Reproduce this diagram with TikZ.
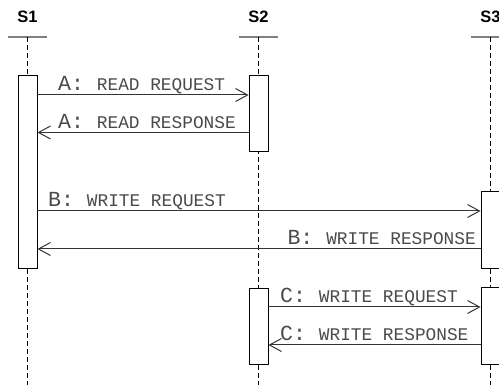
\documentclass[tikz,border=0pt]{standalone}
\usepackage{fontspec}
\setmainfont{Liberation Sans}
\newfontfamily\msgfont{Liberation Mono}
\usetikzlibrary{arrows.meta}
\definecolor{msgline}{HTML}{333333}
\definecolor{msgtext}{HTML}{4A4A4A}
\definecolor{headrule}{HTML}{808080}
% message text: first part at full size, rest in reduced capitals
\newcommand\msglabel[2]{{\msgfont\fontsize{21.5}{22}\selectfont #1}{\msgfont\fontsize{17.8}{18}\selectfont #2}}
\tikzset{
  head/.style={font=\bfseries\fontsize{16.5}{17}\selectfont, inner sep=0pt, anchor=base},
  headline/.style={draw=headrule, line width=2pt},
  life/.style={draw=black, line width=0.9pt, dash pattern=on 5pt off 3pt},
  actbox/.style={draw=black, fill=white, line width=0.9pt, inner sep=0pt, minimum width=19pt},
  msg/.style={draw=msgline, line width=1pt, -{Straight Barb[length=12pt,width=13pt,line width=1pt]}},
  lbl/.style={text=msgtext, inner sep=0pt, anchor=base west},
  lblr/.style={text=msgtext, inner sep=0pt, anchor=base east}
}
\begin{document}
\begin{tikzpicture}[x=1pt,y=-1pt]
\useasboundingbox (0,0) rectangle (499,385);
\clip (0,0) rectangle (499,385);

% participants
\node[head] (s1) at (27.5,23) {S1};
\node[head] (s2) at (258.5,23) {S2};
\node[head] (s3) at (490.5,23) {S3};
\draw[headline] (8,37) -- (47,37);
\draw[headline] (239,37) -- (278,37);
\draw[headline] (471,37) -- (510,37);

% lifelines
\draw[life] (27.5,37) -- (27.5,385);
\draw[life] (258.5,37) -- (258.5,385);
\draw[life] (490.5,37) -- (490.5,385);

% activation bars
\node[actbox, minimum height=193pt] (b1)  at (27.5,171.5) {};
\node[actbox, minimum height=76pt]  (b2a) at (258.5,113) {};
\node[actbox, minimum height=76pt]  (b2b) at (258.5,326) {};
\node[actbox, minimum height=77pt]  (b3a) at (490.5,229.5) {};
\node[actbox, minimum height=77pt]  (b3b) at (490.5,325.5) {};

% messages
\draw[msg] (b1.east |- 0,95) -- (b2a.west |- 0,95);
\node[lbl] (la1) at (58,91) {\msglabel{A:\ }{READ REQUEST}};
\draw[msg] (b2a.west |- 0,132.5) -- (b1.east |- 0,132.5);
\node[lbl] (la2) at (58,128.5) {\msglabel{A:\ }{READ RESPONSE}};

\draw[msg] (b1.east |- 0,211) -- (b3a.west |- 0,211);
\node[lbl] (lb1) at (48,207) {\msglabel{B:\ }{WRITE REQUEST}};
\draw[msg] (b3a.west |- 0,249) -- (b1.east |- 0,249);
\node[lblr] (lb2) at (476,245) {\msglabel{B:\ }{WRITE RESPONSE}};

\draw[msg] (b2b.east |- 0,307) -- (b3b.west |- 0,307);
\node[lbl] (lc1) at (280,303) {\msglabel{C:\ }{WRITE REQUEST}};
\draw[msg] (b3b.west |- 0,345) -- (b2b.east |- 0,345);
\node[lbl] (lc2) at (280,341) {\msglabel{C:\ }{WRITE RESPONSE}};
\end{tikzpicture}
\end{document}
